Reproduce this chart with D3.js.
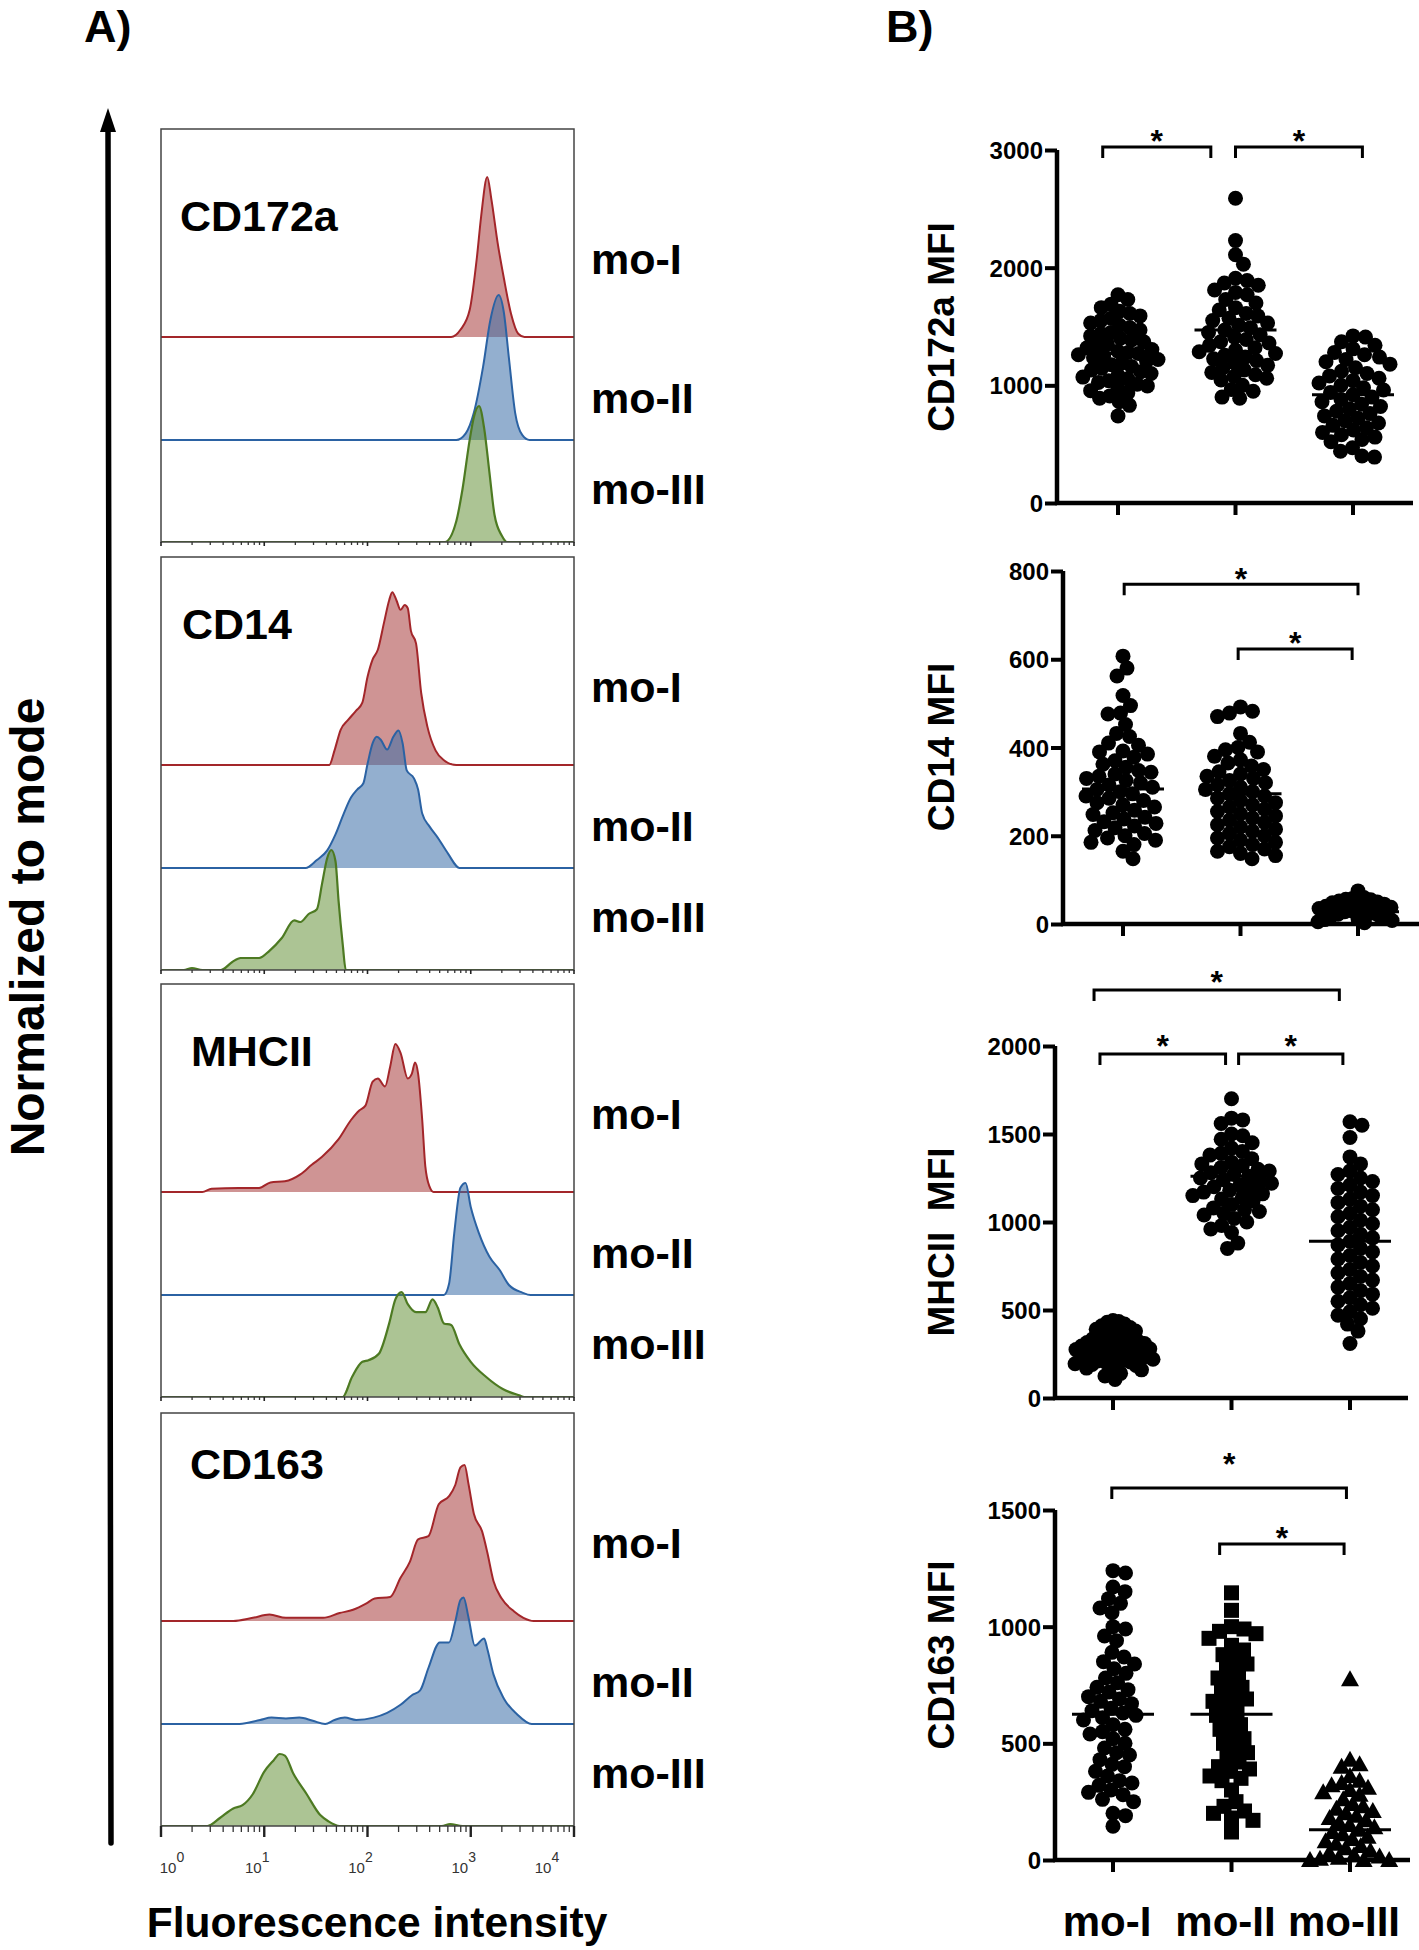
<!DOCTYPE html>
<html><head><meta charset="utf-8">
<script src="https://cdnjs.cloudflare.com/ajax/libs/d3/7.8.5/d3.min.js"></script>
<style>
body{margin:0;background:#fff;}
svg{display:block;font-family:"Liberation Sans",Arial,Helvetica,sans-serif;font-weight:bold;}
</style>
</head><body>
<svg id="fig" width="1419" height="1950"></svg>
<script>
// ---------------- DATA ----------------
const groups = ["mo-I", "mo-II", "mo-III"];
const markers = ["CD172a", "CD14", "MHCII", "CD163"];
const decades = [0, 1, 2, 3, 4];               // log10 fluorescence decades
const yLabels = ["CD172a MFI", "CD14 MFI", "MHCII  MFI", "CD163 MFI"];

// Histograms: [log10 intensity, normalized-to-mode height]
const cd172a_hist_moI   = [[2.81,0],[2.90,0.045],[2.99,0.17],[3.06,0.50],[3.10,0.75],[3.16,1.0],[3.20,0.86],[3.26,0.59],[3.32,0.37],[3.39,0.145],[3.46,0.02],[3.52,0]];
const cd172a_hist_moII  = [[2.86,0],[2.95,0.04],[3.03,0.17],[3.12,0.46],[3.19,0.75],[3.27,0.906],[3.32,0.80],[3.37,0.51],[3.43,0.17],[3.50,0.03],[3.57,0]];
const cd172a_hist_moIII = [[2.75,0],[2.86,0.13],[2.92,0.33],[2.99,0.64],[3.03,0.78],[3.08,0.85],[3.13,0.71],[3.18,0.44],[3.23,0.17],[3.30,0.04],[3.35,0]];

const cd14_hist_moI   = [[1.63,0],[1.68,0.09],[1.74,0.22],[1.81,0.28],[1.89,0.34],[1.95,0.39],[2.00,0.55],[2.05,0.66],[2.10,0.72],[2.16,0.89],[2.21,1.03],[2.24,1.08],[2.28,1.03],[2.32,0.97],[2.36,1.0],[2.39,0.98],[2.42,0.84],[2.47,0.76],[2.52,0.45],[2.58,0.24],[2.66,0.09],[2.74,0.03],[2.86,0]];
const cd14_hist_moII  = [[1.40,0],[1.51,0.05],[1.61,0.11],[1.69,0.21],[1.77,0.34],[1.84,0.44],[1.90,0.49],[1.96,0.53],[2.00,0.65],[2.05,0.78],[2.09,0.82],[2.13,0.80],[2.19,0.74],[2.25,0.82],[2.30,0.86],[2.34,0.78],[2.38,0.61],[2.45,0.56],[2.49,0.49],[2.53,0.34],[2.60,0.26],[2.68,0.19],[2.78,0.09],[2.89,0]];
const cd14_hist_moIII = [[0.22,0],[0.30,0.012],[0.40,0],[0.58,0],[0.69,0.05],[0.77,0.075],[0.95,0.075],[1.05,0.12],[1.17,0.20],[1.29,0.31],[1.35,0.30],[1.43,0.35],[1.51,0.38],[1.56,0.54],[1.61,0.70],[1.65,0.75],[1.69,0.68],[1.72,0.43],[1.76,0.16],[1.79,0]];

const mhcii_hist_moI   = [[0.40,0],[0.49,0.02],[0.75,0.025],[0.95,0.025],[1.06,0.06],[1.20,0.067],[1.35,0.11],[1.46,0.17],[1.56,0.22],[1.72,0.33],[1.84,0.45],[1.92,0.51],[1.98,0.54],[2.05,0.69],[2.10,0.71],[2.17,0.66],[2.22,0.785],[2.27,0.925],[2.32,0.87],[2.39,0.71],[2.43,0.74],[2.46,0.81],[2.49,0.74],[2.53,0.45],[2.56,0.16],[2.60,0.035],[2.64,0]];
const mhcii_hist_moII  = [[2.74,0],[2.79,0.07],[2.84,0.385],[2.90,0.67],[2.95,0.70],[3.00,0.55],[3.08,0.385],[3.18,0.24],[3.28,0.156],[3.37,0.0625],[3.50,0.015],[3.58,0]];
const mhcii_hist_moIII = [[1.76,0],[1.85,0.125],[1.95,0.22],[2.01,0.23],[2.11,0.27],[2.21,0.46],[2.27,0.61],[2.33,0.656],[2.39,0.58],[2.47,0.53],[2.56,0.53],[2.63,0.61],[2.68,0.56],[2.74,0.46],[2.81,0.45],[2.89,0.33],[3.00,0.22],[3.15,0.125],[3.31,0.05],[3.47,0.01],[3.52,0]];

const cd163_hist_moI   = [[0.70,0],[0.89,0.02],[1.05,0.04],[1.21,0.02],[1.57,0.02],[1.73,0.05],[1.86,0.07],[1.99,0.11],[2.07,0.14],[2.22,0.15],[2.32,0.27],[2.41,0.37],[2.49,0.51],[2.59,0.53],[2.69,0.73],[2.79,0.78],[2.85,0.85],[2.90,0.96],[2.94,0.975],[2.98,0.85],[3.03,0.67],[3.11,0.56],[3.16,0.43],[3.22,0.25],[3.30,0.14],[3.42,0.06],[3.51,0.02],[3.61,0]];
const cd163_hist_moII  = [[0.76,0],[0.96,0.025],[1.07,0.04],[1.21,0.035],[1.34,0.04],[1.47,0.02],[1.59,0],[1.68,0.025],[1.78,0.04],[1.89,0.025],[2.06,0.04],[2.19,0.07],[2.32,0.12],[2.43,0.18],[2.51,0.21],[2.59,0.35],[2.70,0.51],[2.79,0.51],[2.85,0.64],[2.90,0.775],[2.93,0.79],[2.98,0.66],[3.04,0.49],[3.13,0.535],[3.16,0.47],[3.22,0.31],[3.32,0.16],[3.45,0.06],[3.59,0]];
const cd163_hist_moIII = [[0.45,0],[0.57,0.05],[0.70,0.11],[0.79,0.13],[0.89,0.20],[1.00,0.34],[1.09,0.41],[1.15,0.45],[1.20,0.44],[1.28,0.33],[1.41,0.20],[1.54,0.07],[1.62,0.03],[1.73,0],[2.72,0],[2.80,0.012],[2.92,0]];

// MFI scatter values
const cd172a_moI   = [1770,1730,1690,1660,1630,1610,1590,1570,1550,1530,1510,1490,1470,1450,1440,1420,1400,1385,1370,1350,1335,1320,1305,1290,1280,1270,1260,1250,1235,1220,1205,1190,1175,1160,1145,1130,1115,1100,1085,1070,1055,1040,1025,1010,995,975,955,935,910,890,860,830,740];
const cd172a_moII  = [2590,2230,2110,2030,1910,1890,1870,1850,1810,1790,1770,1730,1700,1660,1640,1610,1590,1570,1550,1530,1510,1490,1470,1450,1430,1410,1390,1370,1360,1340,1320,1300,1285,1270,1255,1240,1225,1210,1190,1170,1150,1130,1110,1090,1075,1060,1045,1000,965,950,900,890];
const cd172a_moIII = [1420,1410,1370,1340,1310,1280,1260,1240,1220,1200,1180,1150,1120,1100,1080,1060,1040,1020,1000,980,960,940,920,900,880,860,840,820,800,780,760,740,720,700,680,660,640,620,600,580,560,540,520,470,440,400,390];

const cd14_moI   = [607,580,562,518,495,478,476,452,432,425,410,405,392,390,385,378,370,362,355,348,344,340,335,330,325,320,315,310,305,300,295,290,285,280,275,270,265,258,252,248,242,238,232,228,222,218,212,205,200,195,190,185,180,165,148];
const cd14_moII  = [492,482,478,470,432,412,400,395,390,380,372,365,358,350,345,340,335,330,325,320,315,310,305,300,295,290,285,280,275,270,265,260,255,250,245,240,235,230,225,220,215,210,205,200,195,190,185,180,175,170,165,160,155,148];
const cd14_moIII = [75,60,58,56,55,52,50,48,45,42,40,38,35,32,30,28,25,22,20,18,15,12,10,8,5,3];

const mhcii_moI   = [440,435,430,420,410,400,390,380,370,360,350,345,340,335,330,320,315,310,305,300,295,290,285,280,275,270,265,260,255,250,245,240,235,230,225,220,215,210,205,200,195,190,185,180,170,160,150,140,125,105];
const mhcii_moII  = [1700,1590,1580,1560,1500,1490,1470,1450,1420,1400,1390,1380,1360,1340,1330,1320,1310,1300,1290,1280,1270,1260,1250,1240,1230,1220,1210,1200,1190,1180,1170,1160,1150,1140,1130,1120,1100,1080,1070,1060,1050,1040,1020,1000,980,960,940,880,850];
const mhcii_moIII = [1570,1550,1480,1370,1330,1290,1270,1250,1230,1210,1190,1170,1150,1130,1110,1090,1070,1050,1030,1010,990,970,950,930,910,890,870,850,830,810,790,770,750,730,710,690,670,650,630,610,590,570,550,530,510,490,470,450,420,380,310];

const cd163_moI   = [1240,1230,1170,1150,1120,1100,1080,1060,1000,990,960,940,890,870,850,840,820,800,780,760,740,730,720,700,690,680,670,650,640,630,620,610,600,580,560,550,540,520,500,480,460,450,430,410,400,380,360,340,330,320,300,290,280,260,250,200,190,145];
const cd163_moII  = [1145,1070,1000,990,980,970,950,920,900,880,860,840,820,800,780,760,740,720,700,690,680,660,640,620,600,580,560,540,520,500,480,460,440,420,400,390,380,360,350,340,300,250,230,210,200,180,170,120];
const cd163_moIII = [775,430,410,400,360,340,330,320,310,300,290,280,260,240,230,220,210,200,190,180,170,160,150,140,130,120,110,100,90,80,70,60,50,40,30,20,15,10,5,0,0,0];

// Group means (horizontal lines)
const cd172a_means = [1270, 1470, 920];
const cd14_means   = [306, 295, 28];
const mhcii_means  = [270, 1260, 890];
const cd163_means  = [625, 625, 130];

// Y-axis ticks
const cd172a_ticks = [0, 1000, 2000, 3000];
const cd14_ticks   = [0, 200, 400, 600, 800];
const mhcii_ticks  = [0, 500, 1000, 1500, 2000];
const cd163_ticks  = [0, 500, 1000, 1500];

// Significance brackets: [from group idx, to group idx, bracket level (MFI), star level (MFI)]
const cd172a_sig = [[-0.13, 0.79, 3025, 3150], [1.0, 2.08, 3025, 3150]];
const cd14_sig   = [[0.01, 2.0, 770, 803], [0.98, 1.95, 623, 656]];
const mhcii_sig  = [[-0.16, 1.91, 2318, 2415], [-0.11, 0.95, 1955, 2050], [1.06, 1.94, 1955, 2050]];
const cd163_sig  = [[-0.01, 1.97, 1594, 1736], [0.9, 1.95, 1354, 1420]];

// ---------------- DRAW ----------------
const svg = d3.select("#fig");
const BLK = "#000";

// Panel letters
svg.append("text").attr("x", 84).attr("y", 42).attr("font-size", 45).text("A)");
svg.append("text").attr("x", 886).attr("y", 42).attr("font-size", 45).text("B)");

// ---- Panel A: histograms ----
const hist = [
  [cd172a_hist_moI, cd172a_hist_moII, cd172a_hist_moIII],
  [cd14_hist_moI, cd14_hist_moII, cd14_hist_moIII],
  [mhcii_hist_moI, mhcii_hist_moII, mhcii_hist_moIII],
  [cd163_hist_moI, cd163_hist_moII, cd163_hist_moIII]
];
const boxX0 = 161, boxX1 = 574, boxH = 413;
const boxTops = [129, 557, 984, 1413];
const baseOff = [208, 311, 413];
const titleLayout = [[180, 231], [182, 639], [191, 1066], [190, 1479]];
const labelOff = [130, 269, 360];
const strokeCol = ["#a3262a", "#2b62a3", "#4d7a22"];
const fillCol = ["#a83c3c", "#3a6ea8", "#5a8a2a"];
const fillOp = [0.55, 0.55, 0.5];

const hx = d3.scaleLinear().domain([0, 4]).range([boxX0, boxX1]);
const hy = d3.scaleLinear().domain([0, 1]).range([0, 160]);

svg.append("defs").selectAll("clipPath").data(boxTops).join("clipPath")
  .attr("id", (d, i) => "clip" + i)
  .append("rect").attr("x", boxX0).attr("y", d => d).attr("width", boxX1 - boxX0).attr("height", boxH);

hist.forEach((curves, pi) => {
  const top = boxTops[pi];
  const g = svg.append("g");
  const gc = g.append("g").attr("clip-path", `url(#clip${pi})`);
  curves.forEach((pts, ci) => {
    const base = top + baseOff[ci];
    const area = d3.area().x(d => hx(d[0])).y0(base).y1(d => base - hy(d[1])).curve(d3.curveMonotoneX);
    const line = d3.line().x(d => hx(d[0])).y(d => base - hy(d[1])).curve(d3.curveMonotoneX);
    gc.append("path").attr("d", area(pts)).attr("fill", fillCol[ci]).attr("fill-opacity", fillOp[ci]);
    const full = [[0, 0]].concat(pts, [[4, 0]]);
    gc.append("path").attr("d", line(full)).attr("fill", "none")
      .attr("stroke", strokeCol[ci]).attr("stroke-width", ci === 2 ? 2.2 : 2).attr("stroke-linejoin", "round");
  });
  g.append("rect").attr("x", boxX0).attr("y", top).attr("width", boxX1 - boxX0).attr("height", boxH)
    .attr("fill", "none").attr("stroke", "#444").attr("stroke-width", 1.5);
  // log ticks
  const last = pi === 3;
  const minor = [];
  decades.slice(0, 4).forEach(k => { for (let m = 2; m <= 9; m++) minor.push(k + Math.log10(m)); });
  const bottom = top + boxH;
  g.selectAll(".mi").data(minor).join("line")
    .attr("x1", d => hx(d)).attr("x2", d => hx(d)).attr("y1", bottom).attr("y2", bottom + (last ? 6 : 3))
    .attr("stroke", "#333").attr("stroke-width", 1.3);
  g.selectAll(".ma").data(decades).join("line")
    .attr("x1", d => hx(d)).attr("x2", d => hx(d)).attr("y1", bottom).attr("y2", bottom + (last ? 11 : 4))
    .attr("stroke", "#222").attr("stroke-width", last ? 2.4 : 1.6);
  // title
  g.append("text").attr("x", titleLayout[pi][0]).attr("y", titleLayout[pi][1])
    .attr("font-size", 43).text(markers[pi]);
  // group labels
  groups.forEach((gn, gi) => {
    g.append("text").attr("x", 591).attr("y", top + labelOff[gi]).attr("dy", "0.36em")
      .attr("font-size", 43).text(gn);
  });
});

// decade labels under the last panel
const lab = svg.append("g").attr("fill", "#333").attr("font-weight", "normal");
decades.forEach(k => {
  const cx = Math.max(boxX0 + 18, Math.min(boxX1 - 20, hx(k)));
  const t = lab.append("text").attr("x", cx - 7).attr("y", 1873).attr("font-size", 15).attr("text-anchor", "middle");
  t.append("tspan").text("10");
  t.append("tspan").attr("dy", -11).attr("font-size", 14).text(k);
});

// axis arrow and titles
svg.append("line").attr("x1", 111).attr("y1", 1843).attr("x2", 108).attr("y2", 126)
  .attr("stroke", BLK).attr("stroke-width", 5.5).attr("stroke-linecap", "round");
svg.append("path").attr("d", "M108,108 L100,132 L116,132 Z").attr("fill", BLK);
svg.append("text").attr("transform", "translate(44,927) rotate(-90)").attr("text-anchor", "middle")
  .attr("font-size", 48).text("Normalized to mode");
svg.append("text").attr("x", 377).attr("y", 1937).attr("text-anchor", "middle")
  .attr("font-size", 42.5).text("Fluorescence intensity");

// ---- Panel B: scatter plots ----
const plots = [
  {vals: [cd172a_moI, cd172a_moII, cd172a_moIII], means: cd172a_means, ticks: cd172a_ticks, sig: cd172a_sig,
   ax: 1057, y0: 503, y1: 150, xEnd: 1413, g0: 1118, g2: 1353, labelY: 327, shapes: ["c","c","c"]},
  {vals: [cd14_moI, cd14_moII, cd14_moIII], means: cd14_means, ticks: cd14_ticks, sig: cd14_sig,
   ax: 1063, y0: 924, y1: 571, xEnd: 1419, g0: 1123, g2: 1358, labelY: 747, shapes: ["c","c","c"]},
  {vals: [mhcii_moI, mhcii_moII, mhcii_moIII], means: mhcii_means, ticks: mhcii_ticks, sig: mhcii_sig,
   ax: 1055, y0: 1398, y1: 1046, xEnd: 1408, g0: 1113, g2: 1350, labelY: 1242, shapes: ["c","c","c"]},
  {vals: [cd163_moI, cd163_moII, cd163_moIII], means: cd163_means, ticks: cd163_ticks, sig: cd163_sig,
   ax: 1055, y0: 1860, y1: 1510, xEnd: 1410, g0: 1113, g2: 1350, labelY: 1655, shapes: ["c","s","t"]}
];

// greedy beeswarm, then squeezed to the column width
function swarm(vals, y, D, W) {
  const pts = vals.map(v => ({v, y: y(v), x: 0})).sort((a, b) => a.y - b.y);
  const cands = [];
  for (let s = 0; s <= 400; s += 0.5) { cands.push(s); if (s) cands.push(-s); }
  const placed = [];
  pts.forEach(p => {
    for (const c of cands) {
      let ok = true;
      for (const q of placed) {
        const dy = q.y - p.y;
        if (Math.abs(dy) >= D) continue;
        const dx = q.x - c;
        if (dx * dx + dy * dy < D * D) { ok = false; break; }
      }
      if (ok) { p.x = c; break; }
    }
    placed.push(p);
  });
  const m = d3.max(placed, p => Math.abs(p.x)) || 1;
  if (m > W) placed.forEach(p => { p.x *= W / m; });
  return placed;
}

plots.forEach((P, pi) => {
  const g = svg.append("g");
  const yMax = P.ticks[P.ticks.length - 1];
  const y = d3.scaleLinear().domain([0, yMax]).range([P.y0, P.y1]);
  const gx = d3.scaleLinear().domain([0, 2]).range([P.g0, P.g2]);

  // y axis
  const yAxis = d3.axisLeft(y).tickValues(P.ticks).tickSize(12).tickPadding(2).tickFormat(d3.format("d"));
  const ya = g.append("g").attr("transform", `translate(${P.ax},0)`).call(yAxis);
  ya.select(".domain").attr("stroke", BLK).attr("stroke-width", 4.5).attr("d", `M0,${P.y0}V${P.y1}`);
  ya.selectAll(".tick line").attr("stroke", BLK).attr("stroke-width", 4);
  ya.selectAll(".tick text").attr("font-size", 24).attr("font-weight", "bold").attr("fill", BLK)
    .attr("font-family", '"Liberation Sans",Arial,sans-serif').attr("dy", "0.36em");

  // x axis
  g.append("line").attr("x1", P.ax - 2).attr("x2", P.xEnd).attr("y1", P.y0).attr("y2", P.y0)
    .attr("stroke", BLK).attr("stroke-width", 4.5);
  g.selectAll(".xt").data([0, 1, 2]).join("line")
    .attr("x1", d => gx(d)).attr("x2", d => gx(d)).attr("y1", P.y0).attr("y2", P.y0 + 12)
    .attr("stroke", BLK).attr("stroke-width", 4);

  // y label
  g.append("text").attr("transform", `translate(941,${P.labelY}) rotate(-90)`)
    .attr("text-anchor", "middle").attr("dominant-baseline", "central")
    .attr("font-size", 37).style("white-space", "pre").text(yLabels[pi]);

  // points
  P.vals.forEach((vals, gi) => {
    const cx = gx(gi);
    const pts = swarm(vals, y, 12.5, 40);
    const shape = P.shapes[gi];
    if (shape === "c") {
      g.selectAll(null).data(pts).join("circle").attr("cx", d => cx + d.x).attr("cy", d => d.y).attr("r", 7.5).attr("fill", BLK);
    } else if (shape === "s") {
      g.selectAll(null).data(pts).join("rect").attr("x", d => cx + d.x - 7.5).attr("y", d => d.y - 7.5)
        .attr("width", 15).attr("height", 15).attr("fill", BLK);
    } else {
      g.selectAll(null).data(pts).join("path")
        .attr("d", d => `M${cx + d.x},${d.y - 9}L${cx + d.x + 9},${d.y + 7}L${cx + d.x - 9},${d.y + 7}Z`).attr("fill", BLK);
    }
    // mean line
    g.append("line").attr("x1", cx - 41).attr("x2", cx + 41).attr("y1", y(P.means[gi])).attr("y2", y(P.means[gi]))
      .attr("stroke", BLK).attr("stroke-width", 3);
  });

  // significance brackets
  P.sig.forEach(s => {
    const xa = gx(s[0]), xb = gx(s[1]), yb = y(s[2]);
    g.append("path").attr("d", `M${xa},${yb + 11}V${yb}H${xb}V${yb + 11}`)
      .attr("fill", "none").attr("stroke", BLK).attr("stroke-width", 3);
    g.append("text").attr("x", (xa + xb) / 2).attr("y", y(s[3])).attr("text-anchor", "middle")
      .attr("dy", "0.62em").attr("font-size", 32).text("*");
  });

  // group labels under last plot
  if (pi === 3) {
    groups.forEach((gn, gi) => {
      g.append("text").attr("x", gx(gi) - 6).attr("y", 1936).attr("text-anchor", "middle")
        .attr("font-size", 42).text(gn);
    });
  }
});
</script>
</body></html>
